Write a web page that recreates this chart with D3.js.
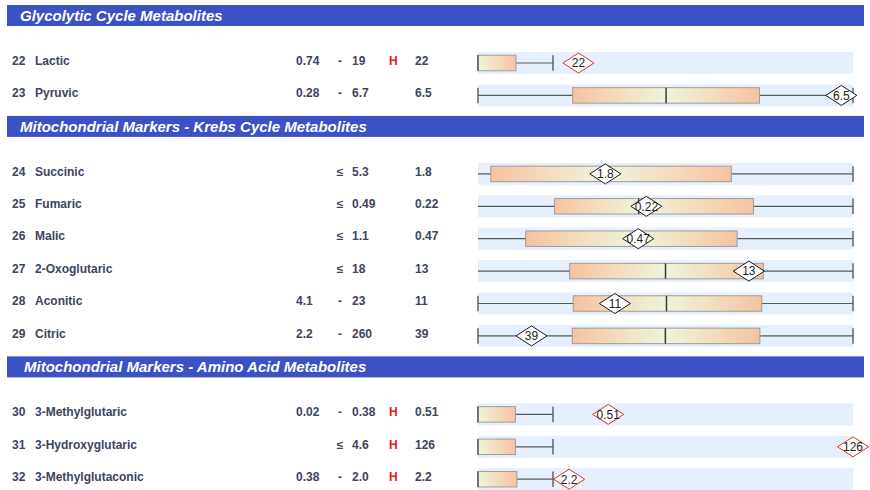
<!DOCTYPE html>
<html>
<head>
<meta charset="utf-8">
<script src="https://cdn.jsdelivr.net/npm/d3@7/dist/d3.min.js"></script>
<style>
  html, body { margin: 0; padding: 0; background: #ffffff; }
  svg { display: block; }
  text { font-family: "Liberation Sans", Arial, Helvetica, sans-serif; }
</style>
</head>
<body>
<svg id="chart" width="870" height="490"></svg>
<script>
// ---------------- DATA ----------------
const sections = [
  "Glycolytic Cycle Metabolites",
  "Mitochondrial Markers - Krebs Cycle Metabolites",
  "Mitochondrial Markers - Amino Acid Metabolites"
];
const sectionOf = [0, 0, 1, 1, 1, 1, 1, 1, 2, 2, 2];
const ids   = [22, 23, 24, 25, 26, 27, 28, 29, 30, 31, 32];
const names = ["Lactic", "Pyruvic", "Succinic", "Fumaric", "Malic", "2-Oxoglutaric",
               "Aconitic", "Citric", "3-Methylglutaric", "3-Hydroxyglutaric", "3-Methylglutaconic"];
// reference range (null low = "≤ high")
const lows      = [0.74, 0.28, null, null, null, null, 4.1, 2.2, 0.02, null, 0.38];
const highs     = [19, 6.7, 5.3, 0.49, 1.1, 18, 23, 260, 0.38, 4.6, 2.0];
const lowLabels  = ["0.74", "0.28", "", "", "", "", "4.1", "2.2", "0.02", "", "0.38"];
const highLabels = ["19", "6.7", "5.3", "0.49", "1.1", "18", "23", "260", "0.38", "4.6", "2.0"];
// patient results
const values      = [22, 6.5, 1.8, 0.22, 0.47, 13, 11, 39, 0.51, 126, 2.2];
const valueLabels = ["22", "6.5", "1.8", "0.22", "0.47", "13", "11", "39", "0.51", "126", "2.2"];
const flags       = ["H", "", "", "", "", "", "", "", "H", "H", "H"];
// population box (q1, median, q3) in result units
const q1s      = [0.74, 1.9, 0.18, 0.10, 0.14, 4.4, 8.9, 67, 0.02, 0, 0.38];
const medians  = [0.74, 3.5, 1.8, 0.21, 0.46, 9.0, 13.6, 131, 0.02, 0, 0.38];
const q3s      = [10, 5.1, 3.58, 0.36, 0.76, 13.7, 18.4, 196, 0.20, 2.3, 1.22];

// ---------------- LAYOUT ----------------
const W = 870, H = 490;
const headerX0 = 7, headerX1 = 864, headerH = 21;
const headerPad = [20, 20, 24];
const plotX0 = 478, plotX1 = 853;
const bandH = 22, boxH = 15.5;
const rowStep = 32.4, firstRowGap = 58, sectionGap = 20.5;
const col = { id: 12, name: 35, low: 296, sep: 340, high: 352, flag: 389, value: 415 };
const textColor = "#3d4460";

const svg = d3.select("#chart");

// gradients
const defs = svg.append("defs");
function grad(id, c0, c1) {
  const g = defs.append("linearGradient").attr("id", id)
    .attr("x1", "0%").attr("x2", "100%").attr("y1", "0%").attr("y2", "0%");
  g.append("stop").attr("offset", "0%").attr("stop-color", c0);
  g.append("stop").attr("offset", "100%").attr("stop-color", c1);
}
const orange = "#f5c3a1", light = "#eef5dc";
grad("gLeft", orange, light);
grad("gRight", light, orange);

// compute vertical positions
const rows = ids.map((id, i) => ({
  i, id, name: names[i], lo: lows[i], hi: highs[i], loL: lowLabels[i], hiL: highLabels[i],
  v: values[i], vL: valueLabels[i], flag: flags[i], q1: q1s[i], med: medians[i], q3: q3s[i],
  sec: sectionOf[i]
}));
const headerTops = [];
let y = 5;
sections.forEach((s, si) => {
  headerTops.push(y);
  const secRows = rows.filter(r => r.sec === si);
  secRows.forEach((r, k) => { r.cy = y + firstRowGap + k * rowStep; });
  y = secRows[secRows.length - 1].cy + sectionGap;
});

// headers
const hdr = svg.selectAll("g.hdr").data(sections).join("g").attr("class", "hdr");
hdr.append("rect")
  .attr("x", headerX0).attr("y", (d, i) => headerTops[i])
  .attr("width", headerX1 - headerX0).attr("height", headerH)
  .attr("fill", "#3a52c4");
hdr.append("text")
  .attr("x", (d, i) => headerPad[i]).attr("y", (d, i) => headerTops[i] + 15.6)
  .attr("fill", "#ffffff").attr("font-size", 15).attr("font-weight", "bold")
  .attr("font-style", "italic").text(d => d);

// rows
const g = svg.selectAll("g.row").data(rows).join("g").attr("class", "row");

// per-row scale
rows.forEach(r => {
  const lo = r.lo == null ? 0 : r.lo;
  if (r.flag === "H") {
    r.x = d3.scaleLinear().domain([lo, r.hi, r.hi * 2.86])
      .range([plotX0, plotX0 + 0.2 * (plotX1 - plotX0), plotX1]).clamp(true);
  } else {
    r.x = d3.scaleLinear().domain([lo, r.hi]).range([plotX0, plotX1]).clamp(true);
  }
  r.loV = lo;
});

// text columns
const ty = r => r.cy - 2.5;
function txt(sel, x, fn, opts = {}) {
  sel.append("text").attr("x", x).attr("y", ty).attr("dy", "0.35em")
    .attr("font-size", opts.size || 12).attr("font-weight", "bold")
    .attr("fill", opts.fill || textColor).attr("text-anchor", opts.anchor || "start")
    .text(fn);
}
txt(g, col.id, r => r.id);
txt(g, col.name, r => r.name);
txt(g, col.low, r => r.loL);
txt(g, col.sep, r => (r.lo == null ? "≤" : "-"), { anchor: "middle" });
txt(g, col.high, r => r.hiL);
txt(g, col.flag, r => r.flag, { fill: "#e3201b" });
txt(g, col.value, r => r.vL);

// background band
g.append("rect")
  .attr("x", plotX0).attr("y", r => r.cy - bandH / 2)
  .attr("width", plotX1 - plotX0).attr("height", bandH)
  .attr("fill", "#e6effc");

// whisker line
const wStroke = "#555a60";
g.append("line")
  .attr("x1", r => r.x(r.loV)).attr("x2", r => r.x(r.hi))
  .attr("y1", r => r.cy).attr("y2", r => r.cy)
  .attr("stroke", wStroke).attr("stroke-width", 1.2);
// right cap
g.append("line")
  .attr("x1", r => r.x(r.hi)).attr("x2", r => r.x(r.hi))
  .attr("y1", r => r.cy - boxH / 2).attr("y2", r => r.cy + boxH / 2)
  .attr("stroke", wStroke).attr("stroke-width", 1.4);
// left cap (only for ranges with a lower limit)
g.filter(r => r.lo != null || r.flag === "H").append("line")
  .attr("x1", r => r.x(r.loV)).attr("x2", r => r.x(r.loV))
  .attr("y1", r => r.cy - boxH / 2).attr("y2", r => r.cy + boxH / 2)
  .attr("stroke", wStroke).attr("stroke-width", 1.4);

// box halves
g.append("rect")
  .attr("x", r => r.x(r.q1)).attr("y", r => r.cy - boxH / 2)
  .attr("width", r => Math.max(0, r.x(r.med) - r.x(r.q1))).attr("height", boxH)
  .attr("fill", "url(#gLeft)");
g.append("rect")
  .attr("x", r => r.x(r.med)).attr("y", r => r.cy - boxH / 2)
  .attr("width", r => r.x(r.q3) - r.x(r.med)).attr("height", boxH)
  .attr("fill", "url(#gRight)");
// box outline
g.append("rect")
  .attr("x", r => r.x(r.q1)).attr("y", r => r.cy - boxH / 2)
  .attr("width", r => r.x(r.q3) - r.x(r.q1)).attr("height", boxH)
  .attr("fill", "none").attr("stroke", "#a09c9a").attr("stroke-width", 1);
// median line
g.filter(r => r.flag !== "H").append("line")
  .attr("x1", r => r.x(r.med)).attr("x2", r => r.x(r.med))
  .attr("y1", r => r.cy - boxH / 2).attr("y2", r => r.cy + boxH / 2)
  .attr("stroke", "#3a3a3a").attr("stroke-width", 1.5);
// left-cap redraw for H rows (dark edge)
g.filter(r => r.flag === "H").append("line")
  .attr("x1", r => r.x(r.loV)).attr("x2", r => r.x(r.loV))
  .attr("y1", r => r.cy - boxH / 2).attr("y2", r => r.cy + boxH / 2)
  .attr("stroke", wStroke).attr("stroke-width", 1.4);

// result diamond
const dw = 15.5, dh = 10;
const dia = g.append("g").attr("transform", r => `translate(${r.x(r.v)},${r.cy})`);
dia.append("polygon")
  .attr("points", `${-dw},0 0,${-dh} ${dw},0 0,${dh}`)
  .attr("fill", "#ffffff")
  .attr("stroke", r => (r.flag === "H" ? "#e0302c" : "#1a1a1a")).attr("stroke-width", 1);
dia.append("text")
  .attr("text-anchor", "middle").attr("dy", "0.36em")
  .attr("font-size", 12).attr("fill", "#222").text(r => r.vL);
</script>
</body>
</html>
